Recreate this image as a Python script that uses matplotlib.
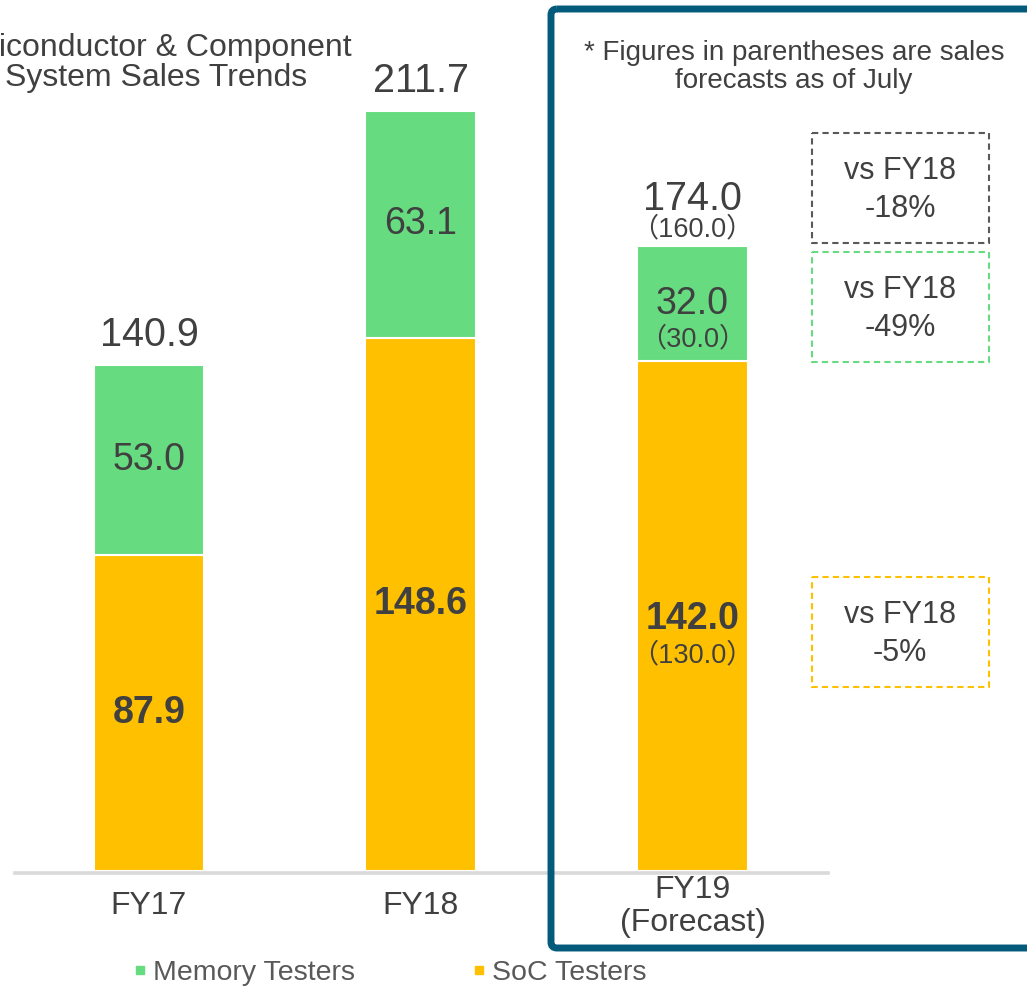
"""Semiconductor & component test system sales trends, stacked by tester type (FY17-FY19)."""

import numpy as np
import matplotlib
matplotlib.use("Agg")
from matplotlib import pyplot as plt
from matplotlib.patches import FancyBboxPatch, Rectangle
from matplotlib.lines import Line2D

categories = ["FY17", "FY18", "FY19\n(Forecast)"]
soc_testers = [87.9, 148.6, 142.0]
memory_testers = [53.0, 63.1, 32.0]
totals = [140.9, 211.7, 174.0]
# July forecast for FY19, shown in parentheses
july_soc = [None, None, 130.0]
july_memory = [None, None, 30.0]
july_total = [None, None, 160.0]
vs_fy18_labels = ["-18%", "-49%", "-5%"]  # total, memory, soc

GREEN = "#66DB80"
ORANGE = "#FFC000"
TEXT = "#404040"
FRAME = "#035A7B"

plt.rcParams["font.family"] = ["Liberation Sans", "Noto Sans CJK JP", "DejaVu Sans"]

W, H = 1027, 988
fig = plt.figure(figsize=(W / 100, H / 100), dpi=100)

# main axes: baseline at y=871px, 3.59 px per unit, bar centres 271.75 px apart starting at 149 px
base_px = 871
ppu = 3.59
step = 271.75
x0_px = 149
ax = fig.add_axes([0, (H - base_px) / H, 1, base_px / H])
ax.set_ylim(0, base_px / ppu)
ax.set_xlim(-x0_px / step, (W - x0_px) / step)
for s in ax.spines.values():
    s.set_visible(False)
ax.set_yticks([])

x = np.arange(len(categories))
ax.bar(x, soc_testers, width=0.408, color=ORANGE, edgecolor="white", linewidth=1.5, zorder=2)
ax.bar(x, memory_testers, bottom=soc_testers, width=0.408, color=GREEN, edgecolor="white", linewidth=1.5, zorder=2)
ax.axhline(-0.45, xmin=15 / W, xmax=828 / W, color="#D9D9D9", lw=2.6, zorder=1, clip_on=False)

ax.set_xticks(x)
ax.set_xticklabels(categories, fontsize=23, color=TEXT, va="center", linespacing=1.14)
ax.tick_params(axis="x", length=0, pad=25.5)

for i in x:
    soc_mid = soc_testers[i] / 2
    mem_mid = soc_testers[i] + memory_testers[i] / 2
    if july_total[i] is None:
        ax.annotate(f"{totals[i]:.1f}", (i, totals[i]), xytext=(0, 13.5), textcoords="offset points",
                    ha="center", va="baseline", fontsize=28.5, color=TEXT)
        ax.text(i, mem_mid, f"{memory_testers[i]:.1f}", ha="center", va="center", fontsize=27, color=TEXT)
        ax.text(i, soc_mid, f"{soc_testers[i]:.1f}", ha="center", va="center", fontsize=27,
                color=TEXT, fontweight="bold")
    else:
        ax.annotate(f"{totals[i]:.1f}", (i, totals[i]), xytext=(0, 26.5), textcoords="offset points",
                    ha="center", va="baseline", fontsize=28.5, color=TEXT)
        ax.annotate(f"（{july_total[i]:.1f}）", (i, totals[i]), xytext=(0, 12.5), textcoords="offset points",
                    ha="center", va="center", fontsize=19.5, color=TEXT)
        ax.text(i, mem_mid, f"{memory_testers[i]:.1f}", ha="center", va="center", fontsize=27, color=TEXT)
        ax.annotate(f"（{july_memory[i]:.1f}）", (i, mem_mid), xytext=(0, -25.5), textcoords="offset points",
                    ha="center", va="center", fontsize=19.5, color=TEXT)
        ax.annotate(f"{soc_testers[i]:.1f}", (i, soc_mid), xytext=(0, -2), textcoords="offset points",
                    ha="center", va="center", fontsize=27, color=TEXT, fontweight="bold")
        ax.annotate(f"（{july_soc[i]:.1f}）", (i, soc_mid), xytext=(0, -28), textcoords="offset points",
                    ha="center", va="center", fontsize=19.5, color=TEXT)

# overlay in pixel coordinates for the frame, notes and boxes
ov = fig.add_axes([0, 0, 1, 1], facecolor="none")
ov.set_xlim(0, W)
ov.set_ylim(H, 0)
ov.axis("off")

ov.text(352, 48, "Semiconductor & Component", ha="right", va="center", fontsize=23, color=TEXT)
ov.text(5, 78, "System Sales Trends", ha="left", va="center", fontsize=23, color=TEXT)

ov.add_patch(FancyBboxPatch((551, 9), 520, 939, boxstyle="round,pad=0,rounding_size=6",
                            fill=False, edgecolor=FRAME, lw=5))
ov.text(794, 53, "* Figures in parentheses are sales", ha="center", va="center", fontsize=20, color=TEXT)
ov.text(794, 81, "forecasts as of July", ha="center", va="center", fontsize=20, color=TEXT)

boxes = [(133, "#595959"), (252, GREEN), (577, ORANGE)]
for (top, col), lab in zip(boxes, vs_fy18_labels):
    ov.add_patch(Rectangle((812, top), 177, 110, fill=False, edgecolor=col, lw=1.5,
                           linestyle=(0, (3, 2))))
    ov.text(900, top + 38, "vs FY18", ha="center", va="center", fontsize=22, color=TEXT)
    ov.text(900, top + 76, lab, ha="center", va="center", fontsize=22, color=TEXT)

handles = [Line2D([], [], ls="none", marker="s", markersize=6, color=GREEN),
           Line2D([], [], ls="none", marker="s", markersize=6, color=ORANGE)]
leg = fig.legend(handles, ["Memory Testers", "SoC Testers"], loc="center left",
                 bbox_to_anchor=(123 / W, 1 - 973 / H), ncol=2, frameon=False, fontsize=20.5,
                 handlelength=0.4, handletextpad=0.25, columnspacing=4.15, borderaxespad=0)
for t in leg.get_texts():
    t.set_color("#595959")

plt.savefig("out.png", dpi=100)
